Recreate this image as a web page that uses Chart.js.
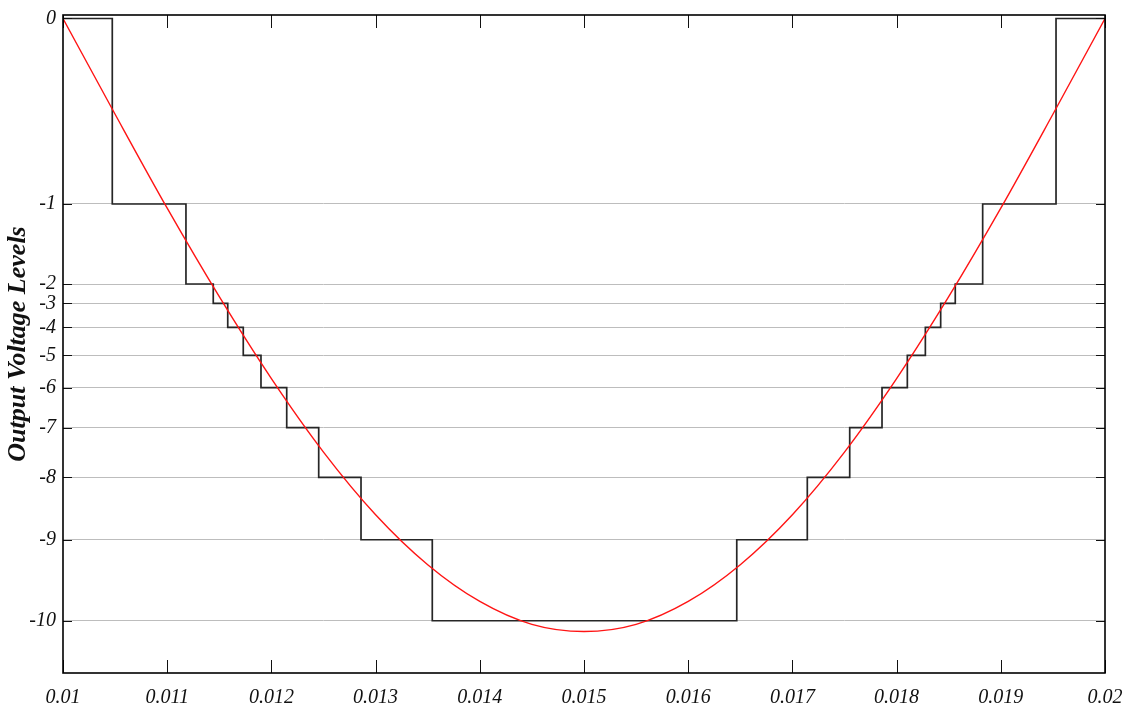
<!DOCTYPE html>
<html>
<head>
<meta charset="utf-8">
<title>Output Voltage Levels</title>
<script src="https://cdn.jsdelivr.net/npm/chart.js@4.4.1/dist/chart.umd.min.js"></script>
<style>
    html, body { margin: 0; padding: 0; background: #ffffff; }
    canvas { display: block; }
</style>
</head>
<body>
<canvas id="levels-chart" width="1132" height="711"></canvas>
<script>
// Voltage of each output level (level 0 .. level -10)
const levelValues = [0, -3.08, -4.409, -4.729, -5.128, -5.593, -6.131, -6.795, -7.619, -8.655, -10];
const levelLabels = ['0', '-1', '-2', '-3', '-4', '-5', '-6', '-7', '-8', '-9', '-10'];

// Staircase: switching instants and the level reached at each instant
const stepTimes = [0.01, 0.010473, 0.01118, 0.011442, 0.011581, 0.01173, 0.0119, 0.012147, 0.012454, 0.01286, 0.013544,
    0.016466, 0.017143, 0.01755, 0.01786, 0.018103, 0.018276, 0.018423, 0.018563, 0.018826, 0.01953, 0.02];
const stepLevels = [0, 1, 2, 3, 4, 5, 6, 7, 8, 9, 10, 9, 8, 7, 6, 5, 4, 3, 2, 1, 0, 0];

// Reference (red) waveform
const refTimes = [0.01, 0.0105, 0.011, 0.0115, 0.012, 0.0125, 0.013, 0.0135, 0.014, 0.0145, 0.015,
    0.0155, 0.016, 0.0165, 0.017, 0.0175, 0.018, 0.0185, 0.019, 0.0195, 0.02];
const refValues = [0, -1.59, -3.15, -4.62, -5.98, -7.2, -8.24, -9.07, -9.68, -10.06, -10.18,
    -10.06, -9.68, -9.07, -8.24, -7.2, -5.98, -4.62, -3.15, -1.59, 0];

// X axis ticks
const xTickValues = [0.01, 0.011, 0.012, 0.013, 0.014, 0.015, 0.016, 0.017, 0.018, 0.019, 0.02];
const xTickLabels = ['0.01', '0.011', '0.012', '0.013', '0.014', '0.015', '0.016', '0.017', '0.018', '0.019', '0.02'];

const FONT = "'Liberation Serif', 'Times New Roman', serif";

// Frame and inward tick marks, as in the original figure
const framePlugin = {
    id: 'frame',
    afterDraw(chart) {
        const { ctx, chartArea: a, scales } = chart;
        ctx.save();
        ctx.strokeStyle = '#111';
        ctx.lineWidth = 1;
        scales.x.ticks.forEach(t => {
            const px = Math.round(scales.x.getPixelForValue(t.value)) + 0.5;
            ctx.beginPath();
            ctx.moveTo(px, a.bottom);
            ctx.lineTo(px, a.bottom - 13);
            ctx.moveTo(px, a.top);
            ctx.lineTo(px, a.top + 13);
            ctx.stroke();
        });
        scales.y.ticks.forEach(t => {
            const py = Math.round(scales.y.getPixelForValue(t.value)) + 0.5;
            ctx.beginPath();
            ctx.moveTo(a.left, py);
            ctx.lineTo(a.left + 9, py);
            ctx.moveTo(a.right, py);
            ctx.lineTo(a.right - 9, py);
            ctx.stroke();
        });
        ctx.lineWidth = 1.6;
        ctx.strokeStyle = '#000';
        ctx.strokeRect(a.left, a.top, a.right - a.left, a.bottom - a.top);
        ctx.restore();
    }
};

const ctx = document.getElementById('levels-chart').getContext('2d');

new Chart(ctx, {
    type: 'line',
    data: {
        datasets: [
            {
                label: 'Reference',
                data: refTimes.map((t, i) => ({ x: t, y: refValues[i] })),
                borderColor: '#ff1414',
                borderWidth: 1.4,
                pointRadius: 0,
                cubicInterpolationMode: 'monotone',
                fill: false
            },
            {
                label: 'Output',
                data: stepTimes.map((t, i) => ({ x: t, y: levelValues[stepLevels[i]] })),
                borderColor: '#262626',
                borderWidth: 1.7,
                pointRadius: 0,
                stepped: true,
                fill: false
            }
        ]
    },
    options: {
        responsive: false,
        animation: false,
        events: [],
        layout: {
            padding: { left: 0, top: 15, right: 27, bottom: 0 }
        },
        plugins: {
            legend: { display: false },
            tooltip: { enabled: false }
        },
        scales: {
            x: {
                type: 'linear',
                min: 0.01,
                max: 0.02,
                afterBuildTicks: scale => {
                    scale.ticks = xTickValues.map(v => ({ value: v }));
                },
                afterFit: scale => {
                    scale.height = 38;
                    scale.paddingLeft = 0;
                    scale.paddingRight = 0;
                },
                grid: { display: false, drawTicks: false },
                border: { display: false },
                ticks: {
                    autoSkip: false,
                    maxRotation: 0,
                    padding: 13,
                    color: '#111',
                    font: { family: FONT, size: 20, style: 'italic' },
                    callback: value => xTickLabels[xTickValues.indexOf(value)]
                }
            },
            y: {
                type: 'linear',
                min: -10.868,
                max: 0.058,
                afterBuildTicks: scale => {
                    scale.ticks = levelValues.map(v => ({ value: v }));
                },
                afterFit: scale => {
                    scale.width = 63;
                    scale.paddingTop = 0;
                    scale.paddingBottom = 0;
                },
                grid: {
                    drawTicks: false,
                    lineWidth: 1,
                    color: c => (c.tick && c.tick.value === 0 ? 'rgba(0,0,0,0)' : '#bdbdbd')
                },
                border: { display: false },
                ticks: {
                    autoSkip: false,
                    padding: 7,
                    color: '#111',
                    font: { family: FONT, size: 20, style: 'italic' },
                    callback: value => levelLabels[levelValues.indexOf(value)]
                },
                title: {
                    display: true,
                    text: 'Output Voltage Levels',
                    color: '#111',
                    padding: { top: 3, bottom: 0 },
                    font: { family: FONT, size: 26, style: 'italic', weight: 'bold' }
                }
            }
        }
    },
    plugins: [framePlugin]
});
</script>
</body>
</html>
